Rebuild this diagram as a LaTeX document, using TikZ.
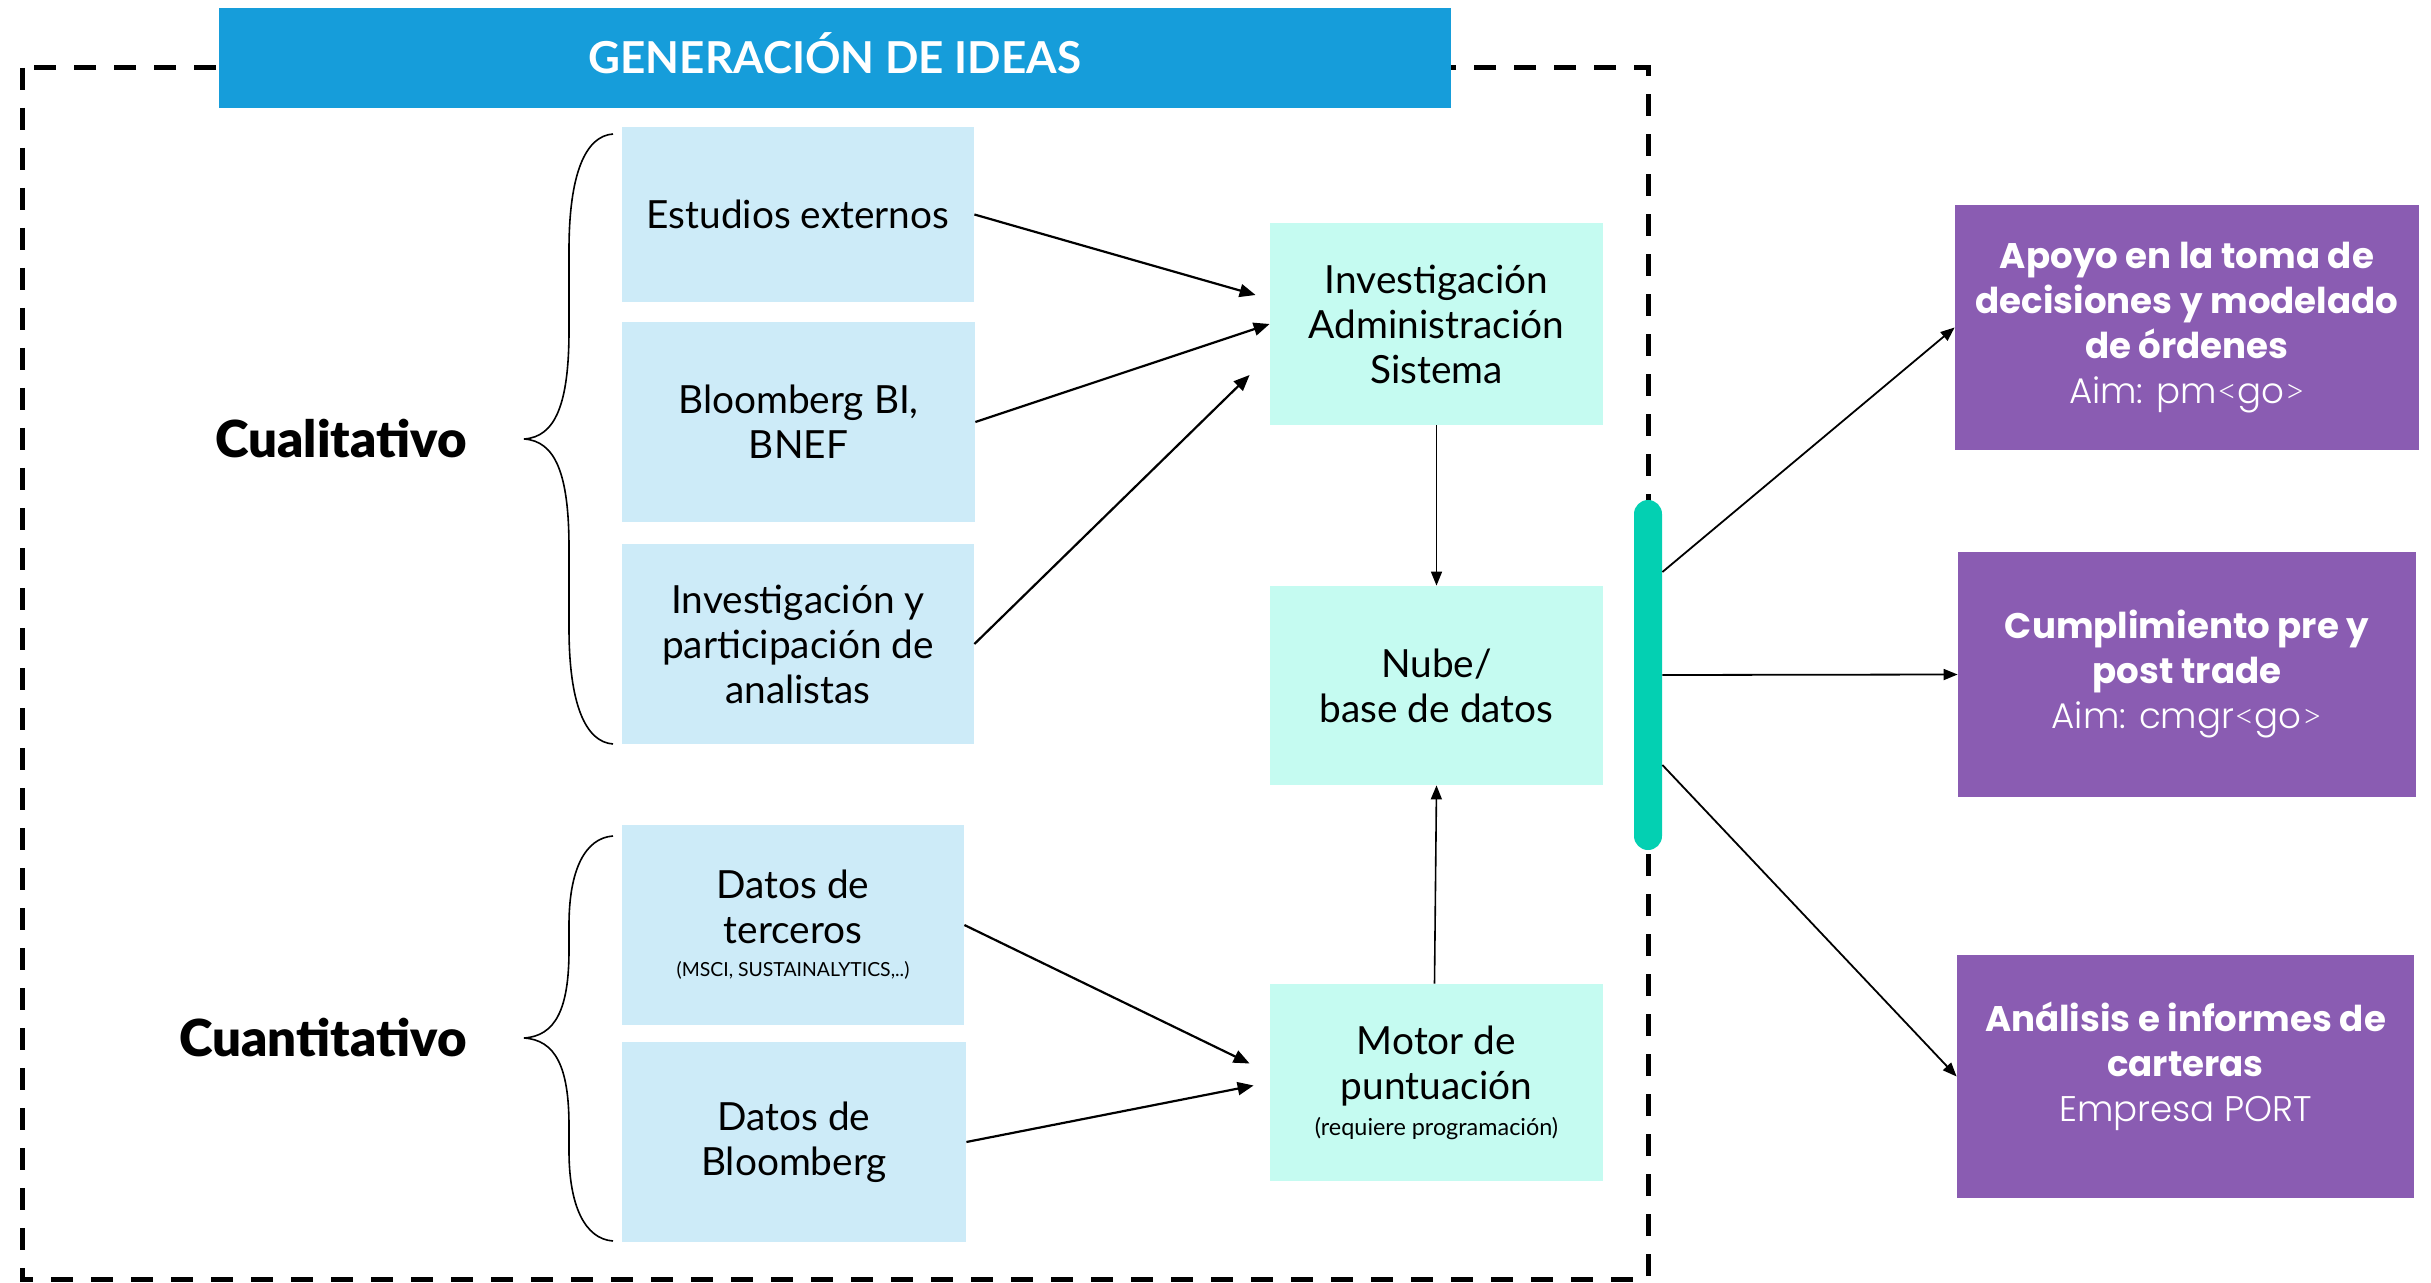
\documentclass[tikz,border=0pt]{standalone}
\usepackage{fontspec}
\setmainfont{Lato}
\newfontfamily\latoblack{Lato Black}
\newfontfamily\latolight{Lato Light}
\newfontfamily\popbold{Poppins Bold}
\newfontfamily\poplight{Poppins Light}
\newcommand\anglelt{{\latolight<}}
\newcommand\anglegt{{\latolight>}}
\usetikzlibrary{arrows.meta,calc}
\definecolor{titleblue}{RGB}{22,157,218}
\definecolor{srcblue}{RGB}{205,235,248}
\definecolor{midcyan}{RGB}{197,251,241}
\definecolor{barteal}{RGB}{3,208,178}
\definecolor{outpurple}{RGB}{138,92,178}
\begin{document}
\begin{tikzpicture}[x=0.5pt,y=-0.5pt,
  srcbox/.style={fill=srcblue, inner sep=0pt, align=center, font=\fontsize{19.4}{22.5}\selectfont},
  midbox/.style={fill=midcyan, inner sep=0pt, align=center, minimum width=166.5pt, font=\fontsize{19.4}{22.5}\selectfont},
  outbox/.style={fill=outpurple, text=white, inner sep=0pt, align=center, font=\fontsize{17.8}{22.5}\selectfont\popbold},
  grouplabel/.style={anchor=east, inner sep=0pt, font=\fontsize{25.5}{30}\selectfont\latoblack},
  conn/.style={-{Triangle[length=8pt,width=6.5pt]}, line width=1.1pt},
  vconn/.style={-{Triangle[length=7pt,width=5.5pt]}, line width=0.8pt},
  outconn/.style={-{Triangle[length=7pt,width=5.5pt]}, line width=0.9pt},
  bracepath/.style={line width=0.8pt},
  dashframe/.style={line width=2.5pt, dash pattern=on 11pt off 9pt}]
\useasboundingbox (0,0) rectangle (2431,1283);
\draw[dashframe] (22,68) rectangle (1648,1279);
\node[fill=titleblue, text=white, minimum width=616pt, minimum height=50pt, inner sep=0pt,
  text height=15.8pt, text depth=0pt,
  font=\fontsize{22}{26}\selectfont\bfseries] (title) at (835,58) {GENERACIÓN DE IDEAS};
% source boxes
\node[srcbox, minimum width=176pt, minimum height=87.5pt] (est) at (798,214.5) {Estudios externos};
\node[srcbox, minimum width=176.5pt, minimum height=100pt] (bbi) at (798.5,422) {Bloomberg BI,\\BNEF};
\node[srcbox, minimum width=176pt, minimum height=100pt] (iyp) at (798,644) {Investigación y\\participación de\\analistas};
\node[srcbox, minimum width=171pt, minimum height=100pt] (dt) at (793,925) {Datos de\\terceros\\[-6pt]{\fontsize{9.7}{12}\selectfont(MSCI, SUSTAINALYTICS,..)}};
\node[srcbox, minimum width=172pt, minimum height=100pt] (db) at (794,1142) {Datos de\\Bloomberg};
% middle boxes
\node[midbox, minimum height=101pt] (inv) at (1436.5,324) {Investigación\\Administración\\Sistema};
\node[midbox, minimum height=99.5pt] (nube) at (1436.5,685.5) {Nube/\\base de datos};
\node[midbox, minimum height=98.5pt] (motor) at (1436.5,1082.5) {Motor de\\puntuación\\[-4.5pt]{\fontsize{11.7}{13}\selectfont(requiere programación)}};
% bar
\node[fill=barteal, rounded corners=7pt, minimum width=14pt, minimum height=175pt, inner sep=0pt] (bar) at (1648,675) {};
% output boxes
\node[outbox, minimum width=232pt, minimum height=122.5pt] (apoyo) at (2187,327.5) {Apoyo en la toma de\\decisiones y modelado\\de órdenes\\{\poplight Aim: pm\anglelt go\anglegt}};
\node[outbox, minimum width=229pt, minimum height=122.5pt] (cumpl) at (2187,674.5) {Cumplimiento pre y\\post trade\\{\poplight Aim: cmgr\anglelt go\anglegt}};
\node[outbox, minimum width=228.5pt, minimum height=121.5pt] (anal) at (2185.5,1076.5) {Análisis e informes de\\carteras\\{\poplight Empresa PORT}\\[-8pt]\mbox{}};
% group labels
\node[grouplabel] (cual) at (467,439) {Cualitativo};
\node[grouplabel] (cuan) at (467,1038) {Cuantitativo};
% braces
\draw[bracepath] (613,134) .. controls (585,136) and (569,175) .. (569,250) -- (569,330)
  .. controls (569,405) and (555,437) .. (524,439)
  .. controls (555,441) and (569,473) .. (569,548) -- (569,628)
  .. controls (569,703) and (585,742) .. (613,744);
\draw[bracepath] (613,836) .. controls (585,838) and (569,870) .. (569,925) -- (569,950)
  .. controls (569,1010) and (555,1036) .. (524,1038)
  .. controls (555,1040) and (569,1066) .. (569,1126) -- (569,1151)
  .. controls (569,1206) and (585,1239) .. (613,1241);
% connectors
\draw[conn] (est.east) -- ($(inv.west)+(-14,-29)$);
\draw[conn] (bbi.east) -- (inv.west);
\draw[conn] (iyp.east) -- ($(inv.west)+(-20,51)$);
\draw[vconn] (inv.south) -- (nube.north);
\draw[vconn] ($(motor.north)+(-2,0)$) -- (nube.south);
\draw[conn] (dt.east) -- ($(motor.west)+(-20,-19)$);
\draw[conn] (db.east) -- ($(motor.west)+(-16,3)$);
\draw[outconn] ($(bar.east)+(0,-103)$) -- (apoyo.west);
\draw[outconn] (bar.east) -- (cumpl.west);
\draw[outconn] ($(bar.east)+(0,90)$) -- (anal.west);
\end{tikzpicture}
\end{document}
